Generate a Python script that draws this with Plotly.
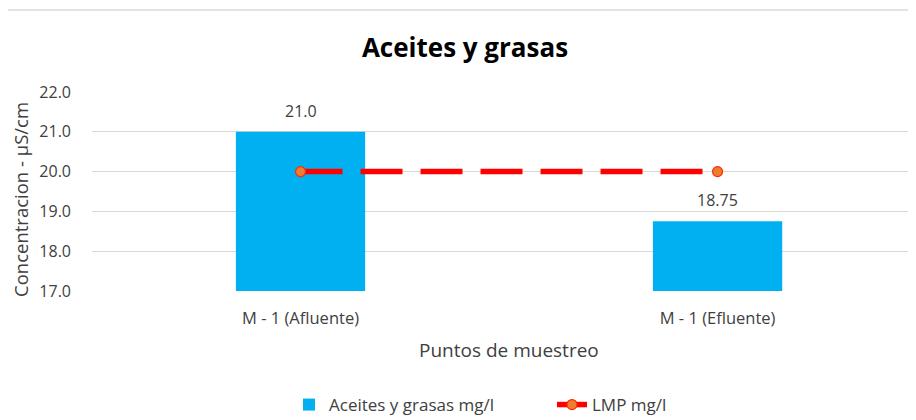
import plotly.graph_objects as go

categorias = ["M - 1 (Afluente)", "M - 1 (Efluente)"]
aceites = [21.0, 18.75]
etiquetas = ["21.0", "18.75"]
lmp = [20.0, 20.0]

fnt = "'Open Sans', sans-serif"
gris = "#404040"

# la pagina tiene 8px de margen en el body
L, T, B = 84, 84, 137
ancho = 916 - L
alto = 420 - T - B

fig = go.Figure()

fig.add_trace(go.Bar(x=categorias, y=aceites,
                     name="Aceites y grasas mg/l",
                     marker=dict(color="#00B0F0", line=dict(width=0)),
                     width=0.31))

fig.add_trace(go.Scatter(x=categorias, y=lmp,
                         name="LMP mg/l", mode="lines+markers",
                         line=dict(color="#FF0000", width=5.5, dash="42px,18px"),
                         marker=dict(color="#ED7D31", size=10,
                                     line=dict(color="#FF2A00", width=1.2))))

# etiquetas de datos encima de las barras
for c, v, t in zip(categorias, aceites, etiquetas):
    fig.add_annotation(x=c, y=v, text=t, showarrow=False, yshift=21,
                       font=dict(size=16, color=gris, family=fnt))

# titulos de ejes
fig.add_annotation(text="Concentracion - µS/cm", xref="paper", yref="paper",
                   x=(12 - L) / ancho, y=(283 - 192) / alto, textangle=-90,
                   xanchor="center", yanchor="middle",
                   showarrow=False, font=dict(size=18.5, color=gris, family=fnt))
fig.add_annotation(text="Puntos de muestreo", xref="paper", yref="paper",
                   x=(501 - L) / ancho, y=(283 - 342) / alto,
                   xanchor="center", yanchor="middle", showarrow=False,
                   font=dict(size=19, color=gris, family=fnt))

fig.update_layout(
    width=916, height=420,
    paper_bgcolor="white", plot_bgcolor="white",
    margin=dict(l=L, r=0, t=T, b=B, autoexpand=False),
    font=dict(family=fnt, size=16, color=gris),
    title=dict(text="<b>Aceites y grasas</b>", x=457 / 916, xanchor="center",
               y=1 - 40 / 420, yanchor="middle",
               font=dict(size=26, color="#000000", family=fnt)),
    showlegend=True,
    legend=dict(orientation="h", x=(281 - L) / ancho, xanchor="left",
                y=(283 - 397) / alto, yanchor="middle",
                font=dict(size=17, color=gris),
                itemwidth=30, entrywidth=218, entrywidthmode="pixels",
                traceorder="normal"),
    xaxis=dict(range=[-0.5, 1.495], showgrid=False, showline=False,
               ticks="", automargin=False, ticklabelstandoff=15,
               tickfont=dict(size=16.5, color=gris)),
    yaxis=dict(range=[17, 22], dtick=1, tickformat=".1f",
               showgrid=True, gridcolor="#D9D9D9", gridwidth=1,
               zeroline=False, showline=False, ticks="", automargin=False,
               ticklabelstandoff=20,
               tickfont=dict(size=16, color=gris)),
    shapes=[dict(type="line", xref="paper", yref="paper",
                 x0=-L / ancho, x1=1.0, y0=1 + 82 / alto, y1=1 + 82 / alto,
                 line=dict(color="#D9D9D9", width=1.5))],
)

fig.write_html("out.html")
